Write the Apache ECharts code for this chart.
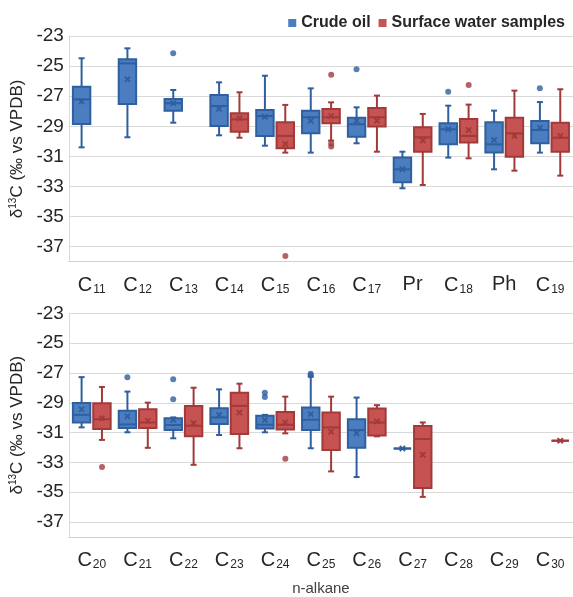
<!DOCTYPE html>
<html><head><meta charset="utf-8">
<script src="https://cdn.jsdelivr.net/npm/echarts@6/dist/echarts.min.js"></script>
<style>html,body{margin:0;padding:0;background:#fff}#c{width:573px;height:597px}</style>
</head><body><div id="c"></div>
<script>
const topCategories = ['C11','C12','C13','C14','C15','C16','C17','Pr','C18','Ph','C19'];
const bottomCategories = ['C20','C21','C22','C23','C24','C25','C26','C27','C28','C29','C30'];
const yTicks = [-23,-25,-27,-29,-31,-33,-35,-37];

// box values: [min, q1, median, q3, max]
const topCrudeBox = [
  [-30.40,-28.85,-27.21,-26.37,-24.48],
  [-29.73,-27.52,-24.82,-24.55,-23.82],
  [-28.76,-27.96,-27.47,-27.19,-26.59],
  [-29.60,-28.98,-27.65,-26.92,-26.08],
  [-30.29,-29.64,-28.32,-27.92,-25.64],
  [-30.75,-29.47,-28.40,-27.96,-26.48],
  [-30.13,-29.69,-28.87,-28.43,-27.74],
  [-33.12,-32.72,-31.86,-31.08,-30.69],
  [-31.08,-30.20,-29.20,-28.80,-27.63],
  [-31.86,-30.75,-30.20,-28.74,-27.96],
  [-30.75,-30.13,-29.25,-28.65,-27.39]
];
const topCrudeMean = [-27.36,-25.88,-27.47,-27.85,-28.36,-28.63,-28.63,-31.86,-29.20,-29.91,-29.09];
const topCrudeOutliers = [['C13',-24.15],['C17',-25.21],['C18',-26.70],['C19',-26.48]];

const topWaterBox = [
  null, null, null,
  [-29.76,-29.36,-28.54,-28.14,-26.74],
  [-30.75,-30.46,-29.64,-28.74,-27.58],
  [-29.95,-28.80,-28.40,-27.85,-27.41],
  [-30.69,-29.02,-28.40,-27.78,-26.96],
  [-32.90,-30.69,-29.73,-29.07,-28.18],
  [-31.13,-30.07,-29.64,-28.51,-27.56],
  [-31.95,-31.02,-29.47,-28.43,-26.63],
  [-32.28,-30.69,-29.76,-28.76,-26.54]
];
const topWaterMean = [null,null,null,-28.47,-30.18,-28.32,-28.63,-29.95,-29.25,-29.64,-29.64];
const topWaterOutliers = [['C15',-37.62],['C16',-25.57],['C16',-30.15],['C16',-30.35],['C18',-26.26]];

const bottomCrudeBox = [
  [-30.65,-30.32,-29.81,-29.01,-27.28],
  [-30.98,-30.69,-30.45,-29.54,-28.25],
  [-31.38,-30.83,-30.49,-30.03,-29.98],
  [-31.16,-30.43,-29.98,-29.36,-28.10],
  [-30.98,-30.72,-30.47,-29.87,-29.81],
  [-32.05,-30.83,-30.14,-29.32,-27.25],
  [-33.98,-32.02,-30.83,-30.10,-28.65],
  [-32.07,-32.07,-32.07,-32.07,-32.07],
  null, null, null
];
const bottomCrudeMean = [-29.43,-29.90,-30.16,-29.81,-30.16,-29.76,-31.05,-32.07,null,null,null];
const bottomCrudeOutliers = [['C21',-27.28],['C22',-27.43],['C22',-28.76],['C24',-28.32],['C24',-28.61],['C25',-27.05],['C25',-27.15]];

const bottomWaterBox = [
  [-31.49,-30.76,-30.10,-29.03,-27.94],
  [-32.02,-30.69,-30.32,-29.43,-28.99],
  [-33.16,-31.25,-30.54,-29.21,-27.99],
  [-32.05,-31.09,-29.21,-28.32,-27.72],
  [-31.05,-30.80,-30.47,-29.61,-28.59],
  [-33.60,-32.16,-30.65,-29.65,-28.59],
  [-31.25,-31.20,-30.32,-29.39,-29.16],
  [-35.31,-34.71,-31.43,-30.56,-30.32],
  null, null,
  [-31.54,-31.54,-31.54,-31.54,-31.54]
];
const bottomWaterMean = [-30.03,-30.21,-30.36,-29.65,-30.32,-30.94,-30.25,-32.49,null,null,-31.54];
const bottomWaterOutliers = [['C20',-33.31],['C24',-32.76]];

const BLUE_FILL = '#4a7ec0', BLUE_LINE = '#2f5f9f';
const RED_FILL = '#c65252', RED_LINE = '#a23a3a';
const OFF = 0.222, HALF = 0.19;

function toData(cats, box, mean) {
  const out = [];
  cats.forEach((c, i) => { if (box[i]) out.push([c].concat(box[i], [mean[i]])); });
  return out;
}

function makeRender(side, stroke, fill) {
  return function (params, api) {
    const cat = api.value(0);
    const band = api.size([1, 0])[0];
    const cx = api.coord([cat, api.value(3)])[0] + side * band * OFF;
    const half = band * HALF;
    const cap = 3;
    const y = k => api.coord([cat, api.value(k)])[1];
    const yMin = y(1), yQ1 = y(2), yMed = y(3), yQ3 = y(4), yMax = y(5), yMean = y(6);
    const ls = { stroke: stroke, lineWidth: 2 };
    const m = 2.6;
    const ms = { stroke: stroke, lineWidth: 1.8 };
    return {
      type: 'group',
      children: [
        { type: 'line', shape: { x1: cx, y1: yMax, x2: cx, y2: yQ3 }, style: ls },
        { type: 'line', shape: { x1: cx, y1: yQ1, x2: cx, y2: yMin }, style: ls },
        { type: 'line', shape: { x1: cx - cap, y1: yMax, x2: cx + cap, y2: yMax }, style: ls },
        { type: 'line', shape: { x1: cx - cap, y1: yMin, x2: cx + cap, y2: yMin }, style: ls },
        { type: 'rect', shape: { x: cx - half, y: yQ3, width: 2 * half, height: yQ1 - yQ3 }, style: { fill: fill, stroke: stroke, lineWidth: 2 } },
        { type: 'line', shape: { x1: cx - half, y1: yMed, x2: cx + half, y2: yMed }, style: ls },
        { type: 'line', shape: { x1: cx - m, y1: yMean - m, x2: cx + m, y2: yMean + m }, style: ms },
        { type: 'line', shape: { x1: cx - m, y1: yMean + m, x2: cx + m, y2: yMean - m }, style: ms }
      ]
    };
  };
}

function boxSeries(name, idx, side, stroke, fill, data) {
  return {
    type: 'custom', name: name, xAxisIndex: idx, yAxisIndex: idx,
    itemStyle: { color: fill, borderColor: stroke },
    encode: { x: 0, y: [1, 2, 3, 4, 5, 6] },
    renderItem: makeRender(side, stroke, fill),
    data: data, z: 3
  };
}
function outlierSeries(idx, side, stroke, data) {
  return {
    type: 'scatter', name: 'out' + idx + side, xAxisIndex: idx, yAxisIndex: idx,
    symbol: 'circle', symbolSize: 6, symbolOffset: [side * 46.18 * OFF, 0],
    itemStyle: { color: stroke }, data: data, z: 4
  };
}

const catLabel = {
  interval: 0, margin: 13, color: '#262626',
  formatter: v => v.charAt(0) === 'C' ? '{c|C}{s|' + v.slice(1) + '}' : '{c|' + v + '}',
  rich: {
    c: { fontSize: 20, fontFamily: 'Liberation Sans, Arial', color: '#262626' },
    s: { fontSize: 12, fontFamily: 'Liberation Sans, Arial', color: '#262626', padding: [9, 0, 0, 1] }
  }
};
const yName = '{t|δ}{p|13}{t|C (‰ vs VPDB)}';
function yAxisCfg(idx) {
  return {
    type: 'value', gridIndex: idx, min: -38, max: -23,
    name: yName, nameLocation: 'middle', nameRotate: 90, nameGap: 38,
    nameTextStyle: {
      rich: {
        t: { fontSize: 17, fontFamily: 'Liberation Sans, Arial', color: '#262626' },
        p: { fontSize: 10, fontFamily: 'Liberation Sans, Arial', color: '#262626', padding: [0, 0, 8, 0] }
      }
    },
    axisLine: { show: true, lineStyle: { color: '#d9d9d9', width: 1 } },
    axisTick: { show: false, customValues: yTicks },
    axisLabel: { customValues: yTicks, fontSize: 19, fontFamily: 'Liberation Sans, Arial', color: '#262626', margin: 5 },
    splitLine: { show: true, lineStyle: { color: '#d9d9d9', width: 1 } }
  };
}
function xAxisCfg(idx, cats) {
  const a = {
    type: 'category', gridIndex: idx, data: cats,
    axisLine: { show: true, lineStyle: { color: '#d0d0d0', width: 1 } },
    axisTick: { show: false },
    axisLabel: catLabel,
    splitLine: { show: false }
  };
  if (idx === 1) {
    a.name = 'n-alkane'; a.nameLocation = 'middle'; a.nameGap = 44;
    a.nameTextStyle = { fontSize: 15, fontFamily: 'Liberation Sans, Arial', color: '#404040' };
  }
  return a;
}

const chart = echarts.init(document.getElementById('c'), null, { renderer: 'canvas' });
chart.setOption({
  animation: false,
  backgroundColor: '#fff',
  legend: {
    data: [{ name: 'Crude oil', icon: 'rect' }, { name: 'Surface water samples', icon: 'rect' }],
    right: 3, top: 10, itemWidth: 8, itemHeight: 8, itemGap: 8,
    textStyle: { fontSize: 16, fontWeight: 'bold', fontFamily: 'Liberation Sans, Arial', color: '#262626' }
  },
  grid: [
    { left: 66, top: 36, width: 508, height: 225.7 },
    { left: 66, top: 313.3, width: 508, height: 225 }
  ],
  xAxis: [xAxisCfg(0, topCategories), xAxisCfg(1, bottomCategories)],
  yAxis: [yAxisCfg(0), yAxisCfg(1)],
  series: [
    boxSeries('Crude oil', 0, -1, BLUE_LINE, BLUE_FILL, toData(topCategories, topCrudeBox, topCrudeMean)),
    boxSeries('Surface water samples', 0, 1, RED_LINE, RED_FILL, toData(topCategories, topWaterBox, topWaterMean)),
    boxSeries('Crude oil', 1, -1, BLUE_LINE, BLUE_FILL, toData(bottomCategories, bottomCrudeBox, bottomCrudeMean)),
    boxSeries('Surface water samples', 1, 1, RED_LINE, RED_FILL, toData(bottomCategories, bottomWaterBox, bottomWaterMean)),
    outlierSeries(0, -1, BLUE_LINE, topCrudeOutliers),
    outlierSeries(0, 1, RED_LINE, topWaterOutliers),
    outlierSeries(1, -1, BLUE_LINE, bottomCrudeOutliers),
    outlierSeries(1, 1, RED_LINE, bottomWaterOutliers)
  ]
});
</script></body></html>
